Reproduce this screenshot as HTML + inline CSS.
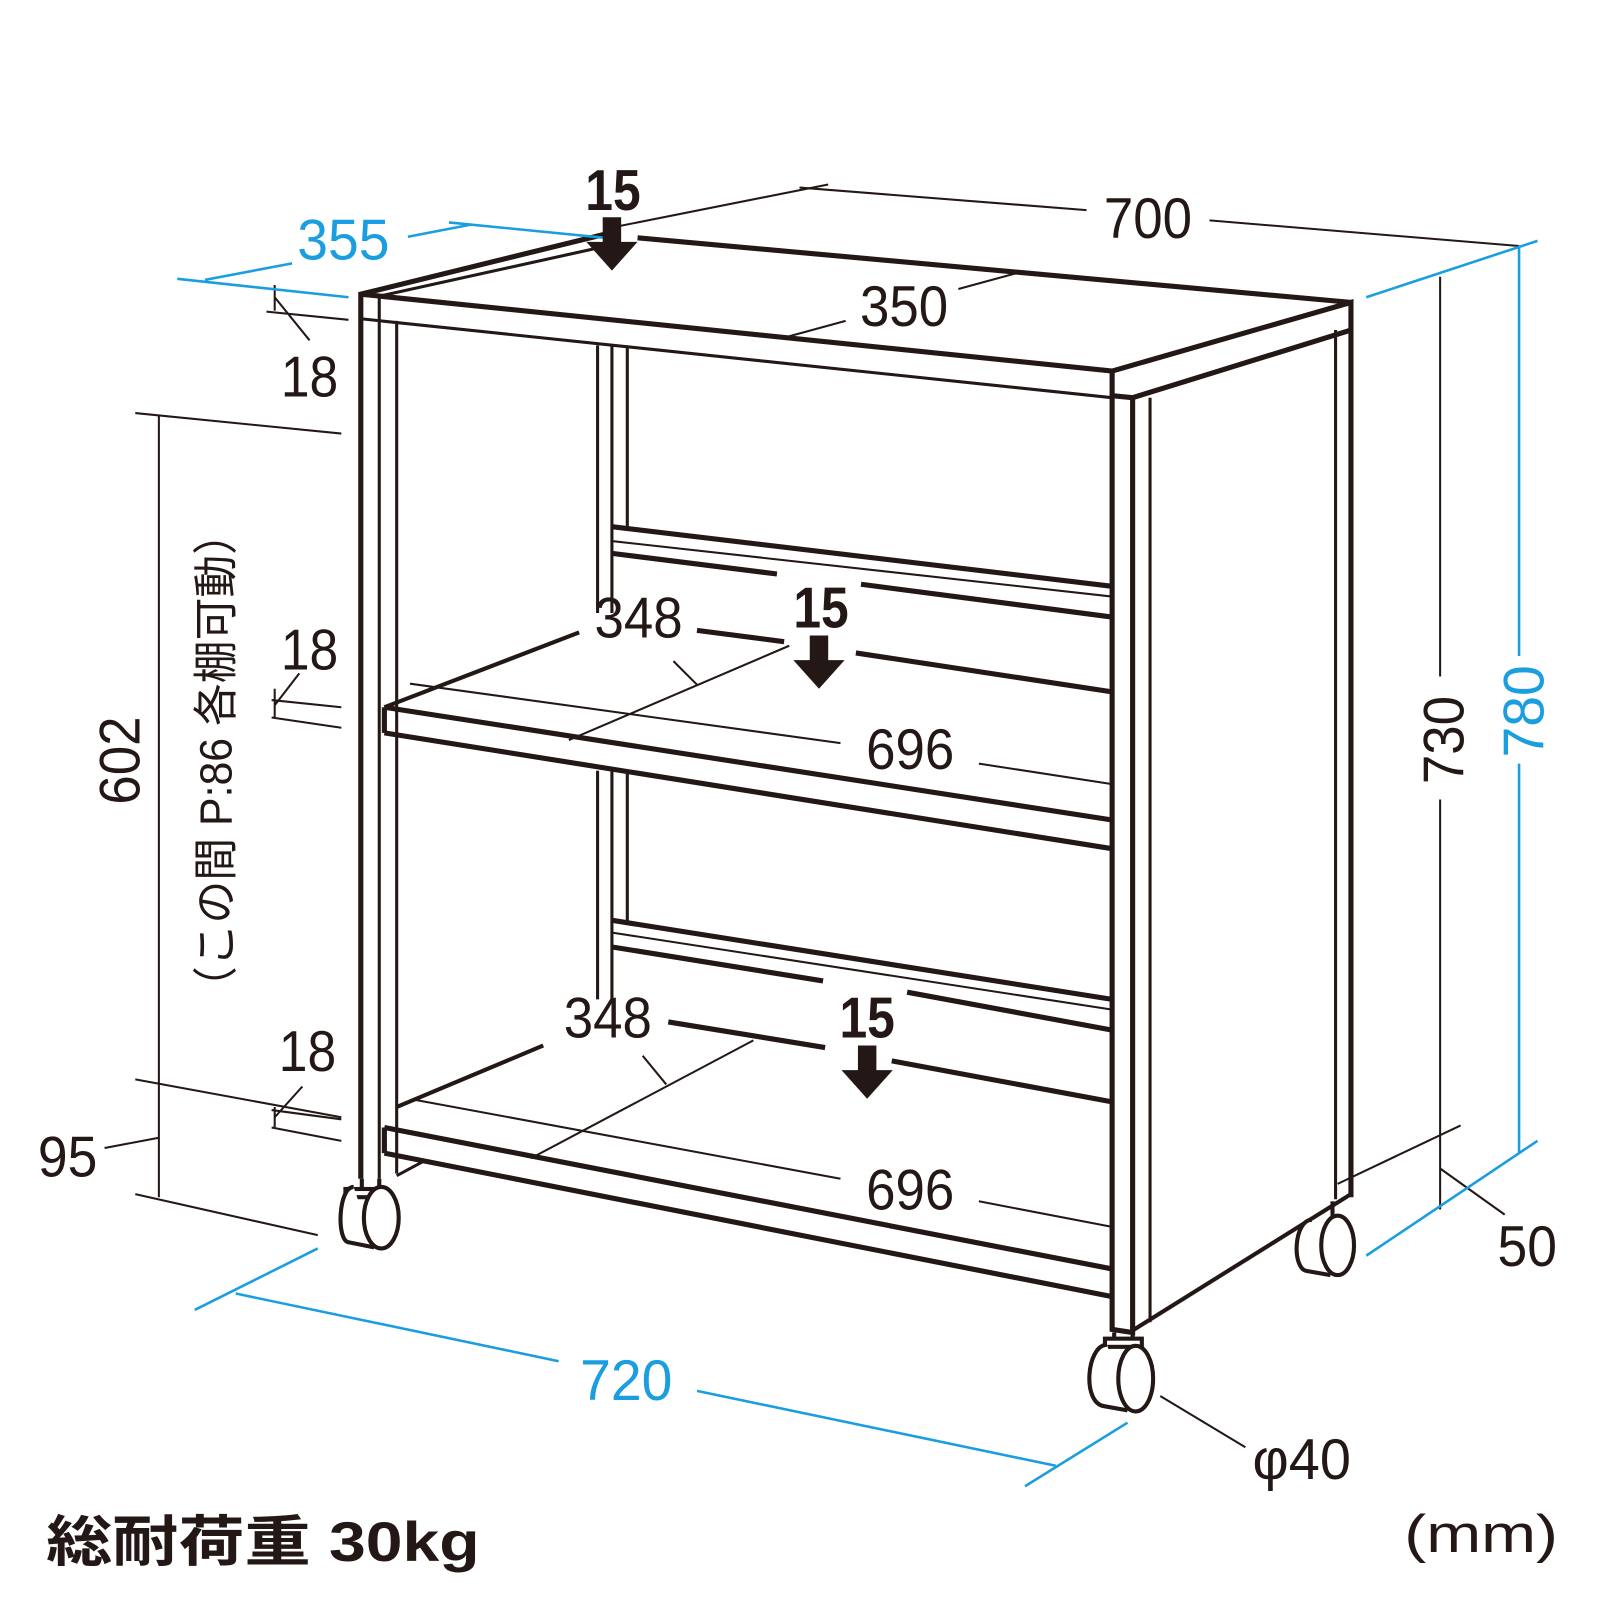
<!DOCTYPE html>
<html><head><meta charset="utf-8"><style>
html,body{margin:0;padding:0;background:#fff}
svg{display:block}
text{font-family:"Liberation Sans","Noto Sans CJK JP",sans-serif}
</style></head><body>
<svg width="1600" height="1600" viewBox="0 0 1600 1600" xmlns="http://www.w3.org/2000/svg">
<g transform="scale(1.025)">
<g stroke="#231815" fill="none" stroke-linecap="butt">
<g stroke-width="5">
<path d="M352,1150 V287 L592,228"/>
<path d="M622,232 L1318,295"/>
<path d="M352,287 L1085,362 L1318,295 V1168"/>
<path d="M1085,362 V1297 L1105,1300 V388 L1318,322"/>
<path d="M1105,388 L1085,386"/>
</g>
<g stroke-width="3">
<path d="M370,1150 V289"/>
<path d="M352,311 L1085,388"/>
<path d="M387,1145 V313"/>
<path d="M370,289 L592,240"/>
<path d="M1122,1290 V388"/>
<path d="M1303,1170 V322"/>
</g>
<path d="M1105,1298 L1318,1165" stroke-width="4"/>
<g stroke-width="3">
<path d="M583,337 V598 M597,337 V598 M612,337 V514"/>
<path d="M583,752 V975 M597,752 V975 M612,755 V898"/>
</g>
<path d="M598,514 L1085,572" stroke-width="5"/>
<path d="M598,528 L1085,582" stroke-width="2"/>
<path d="M598,540 L758,560 M840,570 L1085,602" stroke-width="5"/>
<path d="M680,615 L765,626 M835,637 L1085,675" stroke-width="5"/>
<path d="M375,690 L565,617" stroke-width="4"/>
<path d="M375,690 V715 M375,690 L1085,800 M375,715 L1085,828" stroke-width="5"/>
<path d="M598,898 L1085,975" stroke-width="5"/>
<path d="M598,910 L1085,985" stroke-width="2"/>
<path d="M598,924 L803,957 M885,968 L1085,1005" stroke-width="5"/>
<path d="M652,997 L805,1022 M870,1035 L1085,1075" stroke-width="5"/>
<path d="M387,1080 L530,1020" stroke-width="4"/>
<path d="M375,1100 V1125 M375,1100 L1085,1238 M375,1125 L1085,1265" stroke-width="5"/>
<path d="M387,1147 L415,1132" stroke-width="3"/>
<g stroke-width="4" fill="#fff">
<path d="M353,1150 V1162 M370,1150 V1162"/>
<rect x="337" y="1160" width="36" height="8"/>
<path d="M345,1158 C330,1158 328,1210 340,1212 L365,1217"/>
<ellipse cx="372" cy="1188" rx="17" ry="30"/>
<path d="M1087,1300 V1312 M1105,1300 V1312"/>
<rect x="1078" y="1306" width="36" height="8"/>
<path d="M1080,1312 C1060,1312 1055,1370 1078,1372 L1100,1376"/>
<ellipse cx="1108" cy="1345" rx="17" ry="32"/>
<path d="M1300,1172 V1190"/>
<path d="M1280,1190 C1262,1190 1260,1238 1275,1240 L1298,1244"/>
<ellipse cx="1305" cy="1215" rx="16" ry="29"/>
</g>
<g stroke-width="2">
<path d="M770,328 L825,313 M935,282 L990,267"/>
<path d="M597,222 L808,180 M780,183 L1060,205 M1180,215 L1482,240"/>
<path d="M400,667 L820,725 M955,745 L1085,765"/>
<path d="M555,722 L770,630 M657,645 L680,668"/>
<path d="M405,1073 L820,1150 M955,1172 L1085,1197"/>
<path d="M518,1130 L735,1015 M627,1030 L650,1058"/>
<path d="M1405,270 V660 M1405,780 V1180"/>
<path d="M1305,1155 L1425,1098 M1405,1140 L1468,1185"/>
<path d="M1132,1362 L1215,1412"/>
<path d="M155,405 V1168"/>
<path d="M132,403 L333,423 M132,1053 L333,1090 M132,1165 L310,1205"/>
<path d="M102,1120 L155,1110"/>
<path d="M260,304 L340,312 M268,278 V303 M268,290 L302,332"/>
<path d="M265,683 L333,690 M265,700 L333,710 M268,672 V700 M268,688 L292,657"/>
<path d="M265,1083 L333,1092 M265,1100 L333,1113 M268,1080 V1100 M268,1090 L295,1060"/>
</g>
<g stroke="#1a9ee0" stroke-width="2.5">
<path d="M173,272 L340,290 M200,273 L285,257 M398,231 L460,219 M438,217 L590,232"/>
<path d="M1333,290 L1500,235 M1333,1225 L1500,1113 M1482,240 V640 M1482,745 V1125"/>
<path d="M190,1278 L310,1218 M230,1262 L545,1328 M680,1357 L1030,1430 M1000,1450 L1100,1388"/>
</g>
</g>
<g fill="#231815">
<path d="M588,212 h18 v24 h16 l-25,28 l-25,-28 h16z"/>
<path d="M790,620 h18 v24 h16 l-25,28 l-25,-28 h16z"/>
<path d="M837,1020 h18 v24 h16 l-25,28 l-25,-28 h16z"/>
</g>
<g fill="#231815" font-size="56">
<text x="598" y="205" text-anchor="middle" font-weight="bold" textLength="54" lengthAdjust="spacingAndGlyphs">15</text>
<text x="801" y="612" text-anchor="middle" font-weight="bold" textLength="54" lengthAdjust="spacingAndGlyphs">15</text>
<text x="846" y="1012" text-anchor="middle" font-weight="bold" textLength="54" lengthAdjust="spacingAndGlyphs">15</text>
<text x="1120" y="232" text-anchor="middle" textLength="86" lengthAdjust="spacingAndGlyphs">700</text>
<text x="882" y="318" text-anchor="middle" textLength="86" lengthAdjust="spacingAndGlyphs">350</text>
<text x="623" y="622" text-anchor="middle" textLength="86" lengthAdjust="spacingAndGlyphs">348</text>
<text x="593" y="1012" text-anchor="middle" textLength="86" lengthAdjust="spacingAndGlyphs">348</text>
<text x="888" y="750" text-anchor="middle" textLength="86" lengthAdjust="spacingAndGlyphs">696</text>
<text x="888" y="1180" text-anchor="middle" textLength="86" lengthAdjust="spacingAndGlyphs">696</text>
<text x="302" y="387" text-anchor="middle" textLength="56" lengthAdjust="spacingAndGlyphs">18</text>
<text x="302" y="653" text-anchor="middle" textLength="56" lengthAdjust="spacingAndGlyphs">18</text>
<text x="300" y="1045" text-anchor="middle" textLength="56" lengthAdjust="spacingAndGlyphs">18</text>
<text x="66" y="1148" text-anchor="middle" textLength="58" lengthAdjust="spacingAndGlyphs">95</text>
<text x="1490" y="1235" text-anchor="middle" textLength="58" lengthAdjust="spacingAndGlyphs">50</text>
<text x="1270" y="1443" text-anchor="middle" textLength="96" lengthAdjust="spacingAndGlyphs">φ40</text>
<text transform="translate(136,742) rotate(-90)" text-anchor="middle" textLength="86" lengthAdjust="spacingAndGlyphs">602</text>
<text transform="translate(1428,722) rotate(-90)" text-anchor="middle" textLength="86" lengthAdjust="spacingAndGlyphs">730</text>
<text transform="translate(226,742) rotate(-90)" text-anchor="middle" font-size="44" textLength="485" lengthAdjust="spacingAndGlyphs">（この間 P:86 各棚可動）</text>
<text x="45" y="1523" font-size="54" font-weight="bold" textLength="423" lengthAdjust="spacingAndGlyphs">総耐荷重 30kg</text>
<text x="1445" y="1514" text-anchor="middle" font-size="52" textLength="150" lengthAdjust="spacingAndGlyphs">(mm)</text>
</g>
<g fill="#1a9ee0" font-size="56">
<text x="335" y="253" text-anchor="middle" textLength="90" lengthAdjust="spacingAndGlyphs">355</text>
<text x="611" y="1366" text-anchor="middle" textLength="90" lengthAdjust="spacingAndGlyphs">720</text>
<text transform="translate(1506,694) rotate(-90)" text-anchor="middle" textLength="90" lengthAdjust="spacingAndGlyphs">780</text>
</g>
</g>
</svg>
</body></html>
